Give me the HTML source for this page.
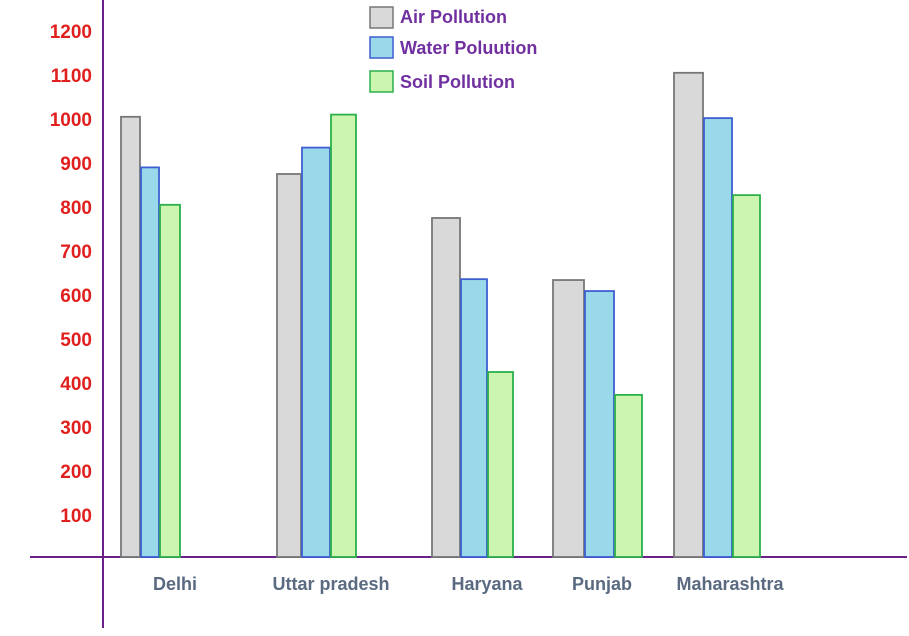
<!DOCTYPE html>
<html><head><meta charset="utf-8"><style>
html,body{margin:0;padding:0;background:#fff;}
svg{display:block;font-family:"Liberation Sans",sans-serif;font-weight:bold;}
</style></head><body>
<svg id="chart" width="909" height="636">
<line x1="103" y1="0" x2="103" y2="628" stroke="#6a1f8a" stroke-width="2"/>
<line x1="30" y1="557" x2="907" y2="557" stroke="#6a1f8a" stroke-width="2"/>
<g id="yticks"></g><g id="bars"></g><g id="xlabels"></g>
<g>
<rect x="370" y="7" width="23" height="21" fill="#d9d9d9" stroke="#777" stroke-width="1.5"/>
<text x="400" y="23" font-size="18" fill="#7030a0">Air Pollution</text>
<rect x="370" y="37" width="23" height="21" fill="#99d9ea" stroke="#3d5fd1" stroke-width="1.5"/>
<text x="400" y="54" font-size="18" fill="#7030a0">Water Poluution</text>
<rect x="370" y="71" width="23" height="21" fill="#ccf5b0" stroke="#2bb04a" stroke-width="1.5"/>
<text x="400" y="88" font-size="18" fill="#7030a0">Soil Pollution</text>
</g>
</svg>
<script>
const categories=["Delhi","Uttar pradesh","Haryana","Punjab","Maharashtra"];
const airValues=[1005,875,775,634,1105];
const waterValues=[890,935,636,609,1002];
const soilValues=[805,1010,425,373,827];
const yTicks=[100,200,300,400,500,600,700,800,900,1000,1100,1200];
const groupLeft=[121,277,432,553,674];
const barW=[[19,18,20],[24,28,25],[28,26,25],[31,29,27],[29,28,27]];
const labelX=[175,331,487,602,730];
const NS="http://www.w3.org/2000/svg";
function y(v){return 559-v*0.44;}
const yt=document.getElementById('yticks');
yTicks.forEach(t=>{const e=document.createElementNS(NS,'text');


e.setAttribute('x',92);e.setAttribute('y',y(t)+7);e.setAttribute('text-anchor','end');
e.setAttribute('font-size','19');e.setAttribute('fill','#e0201e');e.textContent=t;yt.appendChild(e);});
const series=[[airValues,'#d9d9d9','#777','air'],[waterValues,'#99d9ea','#3d5fd1','water'],[soilValues,'#ccf5b0','#2bb04a','soil']];
const bg=document.getElementById('bars');
categories.forEach((c,i)=>{let x=groupLeft[i];
series.forEach((s,j)=>{const w=barW[i][j];const r=document.createElementNS(NS,'rect');


r.setAttribute('x',x);r.setAttribute('y',y(s[0][i]));r.setAttribute('width',w);
r.setAttribute('height',557-y(s[0][i]));r.setAttribute('fill',s[1]);r.setAttribute('stroke',s[2]);r.setAttribute('stroke-width','1.8');
bg.appendChild(r);x+=w+1;});
const t=document.createElementNS(NS,'text');


t.setAttribute('x',labelX[i]);t.setAttribute('y',590);t.setAttribute('text-anchor','middle');
t.setAttribute('font-size','18');t.setAttribute('fill','#5a6a80');t.textContent=c;
document.getElementById('xlabels').appendChild(t);});
</script>
</body></html>
